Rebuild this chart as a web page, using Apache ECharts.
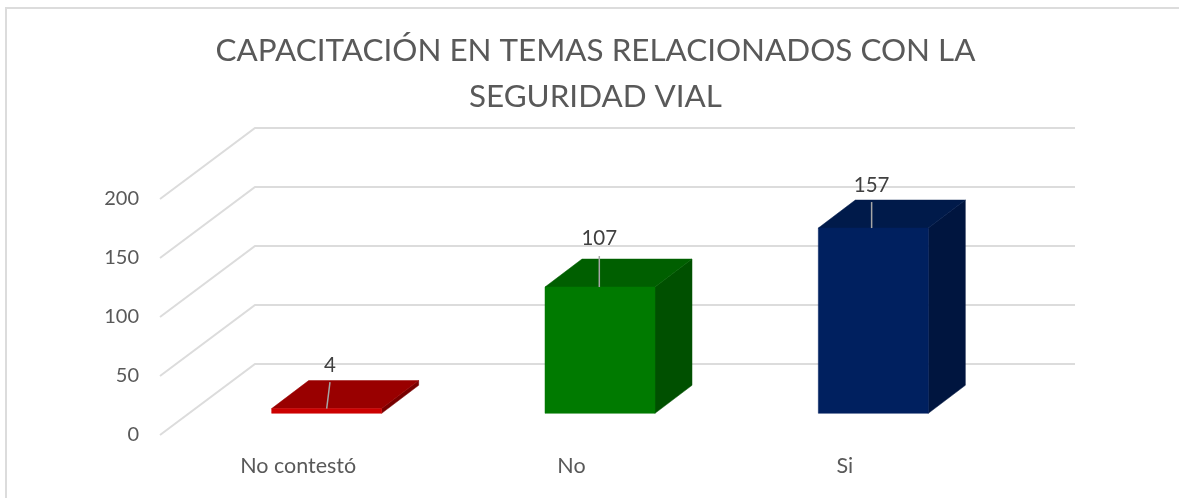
<!DOCTYPE html>
<html><head><meta charset="utf-8">
<style>html,body{margin:0;padding:0;background:#fff}#c{width:1179px;height:498px}</style>
<script src="https://cdn.jsdelivr.net/npm/echarts@6/dist/echarts.min.js"></script>
</head><body><div id="c"></div>
<script>
const categories = ['No contestó', 'No', 'Si'];
const values = [4, 107, 157];
const yTicks = [0, 50, 100, 150, 200];
const titleText = 'CAPACITACIÓN EN TEMAS RELACIONADOS CON LA\nSEGURIDAD VIAL';

const FONT = 'Lato';
const WALL = [95, -71];        // depth of the chart box
const BAR_OFF = [30, -21.7];   // bar front plane relative to box front
const BAR_DEPTH = [37, -28];
const BAR_W = 110;
const COLORS = [
  {front:'#cc0000', top:'#990000', side:'#770000'},
  {front:'#007a00', top:'#005f00', side:'#005000'},
  {front:'#00205f', top:'#001a4a', side:'#00153f'}
];
const LEADER = [
  {bx:0, tx:3.3, len:26.5, ldy:-43},
  {bx:-0.7, tx:-0.7, len:31, ldy:-48.5},
  {bx:-1.7, tx:-1.7, len:26, ldy:-42.5}
];

function poly(points, fill){
  return {type:'polygon', shape:{points}, style:{fill, stroke:fill, lineWidth:0.5}, silent:true};
}
const chart = echarts.init(document.getElementById('c'), null, {renderer:'canvas'});
chart.setOption({
  animation:false,
  backgroundColor:'#fff',
  title:{
    text:titleText, left:590.5, top:23, textAlign:'center',
    textStyle:{fontFamily:FONT, fontSize:31.4, fontWeight:'normal', color:'#595959', lineHeight:46}
  },
  graphic:[{type:'polyline', shape:{points:[[6,498],[6,8],[1179,8]]}, style:{stroke:'#dcdcdc', lineWidth:2, fill:null}, silent:true}],
  grid:{left:160, top:199, width:820, height:236},
  xAxis:{type:'category', data:categories, axisLine:{show:false}, axisTick:{show:false},
    axisLabel:{fontFamily:FONT, fontSize:21.5, color:'#595959', margin:20, padding:[0,0,0,3]}},
  yAxis:{type:'value', min:0, max:200, interval:50, splitLine:{show:false}, axisLine:{show:false}, axisTick:{show:false},
    axisLabel:{fontFamily:FONT, fontSize:20, color:'#595959', margin:21}},
  series:[
    {
      type:'custom', z:1, silent:true, data:yTicks.map(v=>[0,v]),
      encode:{x:0,y:1},
      renderItem(params, api){
        const cs = params.coordSys;
        const y = api.coord([0, api.value(1)])[1];
        return {type:'polyline', silent:true,
          shape:{points:[[cs.x,y],[cs.x+WALL[0],y+WALL[1]],[cs.x+cs.width+WALL[0],y+WALL[1]]]},
          style:{stroke:'#dcdcdc', lineWidth:2, fill:null}};
      }
    },
    {
      type:'custom', z:2, silent:true, data:values.map((v,i)=>[i,v]),
      encode:{x:0,y:1},
      renderItem(params, api){
        const i = params.dataIndex, c = COLORS[i], L = LEADER[i];
        const top = api.coord([i, api.value(1)]);
        const base = api.coord([i, 0]);
        const cx = top[0] + BAR_OFF[0];
        const x0 = cx - BAR_W/2, x1 = cx + BAR_W/2;
        const yt = top[1] + BAR_OFF[1], yb = base[1] + BAR_OFF[1];
        const dx = BAR_DEPTH[0], dy = BAR_DEPTH[1];
        return {type:'group', silent:true, children:[
          poly([[x1,yb],[x1+dx,yb+dy],[x1+dx,yt+dy],[x1,yt]], c.side),
          poly([[x0,yt],[x1,yt],[x1+dx,yt+dy],[x0+dx,yt+dy]], c.top),
          poly([[x0,yb],[x1,yb],[x1,yt],[x0,yt]], c.front),
          {type:'line', silent:true, shape:{x1:cx+L.bx, y1:yt, x2:cx+L.tx, y2:yt-L.len},
            style:{stroke:'#a6a6a6', lineWidth:1.5}},
          {type:'text', silent:true, x:cx+L.tx, y:yt+L.ldy,
            style:{text:String(api.value(1)), fontFamily:FONT, fontSize:20.5, fill:'#404040', align:'center', verticalAlign:'middle'}}
        ]};
      }
    }
  ]
});
</script></body></html>
